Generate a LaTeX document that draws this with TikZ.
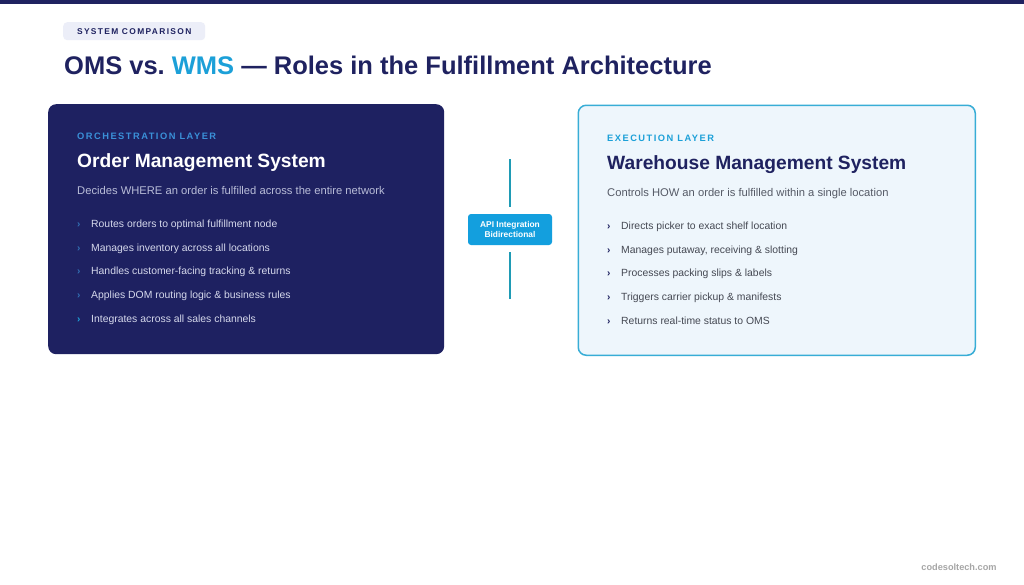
\documentclass[tikz,border=0pt]{standalone}
\usepackage{fontspec}
\setmainfont{Liberation Sans}
\newfontfamily\spacedfont[LetterSpace=16]{Liberation Sans}
\usetikzlibrary{positioning}
\definecolor{navy}{HTML}{1F2260}
\definecolor{cardnavy}{HTML}{1E2161}
\definecolor{skyblue}{HTML}{1CA0D8}
\definecolor{layerblue}{HTML}{3A90D8}
\definecolor{paleblue}{HTML}{EEF6FC}
\definecolor{cardedge}{HTML}{38ADD6}
\definecolor{apiblue}{HTML}{139FDE}
\definecolor{linkteal}{HTML}{1F9BB5}
\definecolor{tagbg}{HTML}{ECEEF8}
\definecolor{softtext}{HTML}{B9BDD8}
\definecolor{bullettext}{HTML}{D6D9EC}
\definecolor{grey}{HTML}{555A66}
\frenchspacing
\begin{document}
\begin{tikzpicture}[x=1pt,y=-1pt,
  card/.style={rounded corners=8pt,minimum width=396pt,minimum height=250pt,anchor=north west},
  layer/.style={anchor=base west,inner sep=0pt,font=\spacedfont\bfseries\fontsize{9.3}{10}\selectfont},
  heading/.style={anchor=base west,inner sep=0pt,font=\bfseries\fontsize{19.2}{22}\selectfont},
  lead/.style={anchor=base west,inner sep=0pt,font=\fontsize{11.2}{13}\selectfont},
  item/.style={anchor=base west,inner sep=0pt,font=\fontsize{10.4}{12}\selectfont},
  chevron/.style={anchor=base west,inner sep=0pt,font=\bfseries\fontsize{10}{12}\selectfont}]
\useasboundingbox[fill=white] (0,0) rectangle (1024,584);
\fill[navy] (0,0) rectangle (1024,4);
% header
\node[fill=tagbg,rounded corners=4pt,anchor=north west,minimum width=142pt,minimum height=18pt,
  text=navy,font=\spacedfont\bfseries\fontsize{8.4}{9}\selectfont] (tag) at (63,22) {SYSTEM COMPARISON};
\node[anchor=base west,text=navy,font=\bfseries\fontsize{25.5}{30}\selectfont,inner sep=0pt] (title) at (64,74)
  {OMS vs. \textcolor{skyblue}{WMS} — Roles in the Fulfillment Architecture};
% OMS card
\node[card,fill=cardnavy] (oms) at (48,104) {};
\node[layer,text=layerblue] (omslayer) at (77,139) {ORCHESTRATION LAYER};
\node[heading,text=white] (omsname) at (77,167) {Order Management System};
\node[lead,text=softtext] (omslead) at (77,194) {Decides WHERE an order is fulfilled across the entire network};
\node[chevron,text=layerblue!70!cardnavy] (omsm1) at (77,227) {›};
\node[item,text=bullettext] (oms1) at (91,227) {Routes orders to optimal fulfillment node};
\node[chevron,text=layerblue!70!cardnavy] (omsm2) at (77,251) {›};
\node[item,text=bullettext] (oms2) at (91,251) {Manages inventory across all locations};
\node[chevron,text=layerblue!70!cardnavy] (omsm3) at (77,274) {›};
\node[item,text=bullettext] (oms3) at (91,274) {Handles customer-facing tracking \& returns};
\node[chevron,text=layerblue!70!cardnavy] (omsm4) at (77,298) {›};
\node[item,text=bullettext] (oms4) at (91,298) {Applies DOM routing logic \& business rules};
\node[chevron,text=skyblue] (omsm5) at (77,322) {›};
\node[item,text=bullettext] (oms5) at (91,322) {Integrates across all sales channels};
% WMS card
\node[card,fill=paleblue,draw=cardedge,line width=1.5pt,minimum width=397pt] (wms) at (577.5,104.5) {};
\node[layer,text=skyblue] (wmslayer) at (607,141) {EXECUTION LAYER};
\node[heading,text=navy] (wmsname) at (607,169) {Warehouse Management System};
\node[lead,text=grey] (wmslead) at (607,196) {Controls HOW an order is fulfilled within a single location};
\node[chevron,text=navy] (wmsm1) at (607,229) {›};
\node[item,text=grey!80!black] (wms1) at (621,229) {Directs picker to exact shelf location};
\node[chevron,text=navy] (wmsm2) at (607,253) {›};
\node[item,text=grey!80!black] (wms2) at (621,253) {Manages putaway, receiving \& slotting};
\node[chevron,text=navy] (wmsm3) at (607,276) {›};
\node[item,text=grey!80!black] (wms3) at (621,276) {Processes packing slips \& labels};
\node[chevron,text=navy] (wmsm4) at (607,300) {›};
\node[item,text=grey!80!black] (wms4) at (621,300) {Triggers carrier pickup \& manifests};
\node[chevron,text=navy] (wmsm5) at (607,324) {›};
\node[item,text=grey!80!black] (wms5) at (621,324) {Returns real-time status to OMS};
% link
\node[fill=apiblue,rounded corners=3pt,minimum width=84pt,minimum height=31pt,align=center,
  text=white,font=\bfseries\fontsize{8.4}{9.5}\selectfont] (api) at (510,229.5) {API Integration\\Bidirectional};
\coordinate (apitop) at (510,159);
\coordinate (apibot) at (510,299);
\draw[linkteal,line width=1.5pt,shorten >=7pt] (apitop) -- (api.north);
\draw[linkteal,line width=1.5pt,shorten >=7pt] (apibot) -- (api.south);
% footer
\node[anchor=base,inner sep=0pt,text=gray!70,font=\bfseries\fontsize{9.2}{10}\selectfont] (site) at (959,570) {codesoltech.com};
\end{tikzpicture}
\end{document}
